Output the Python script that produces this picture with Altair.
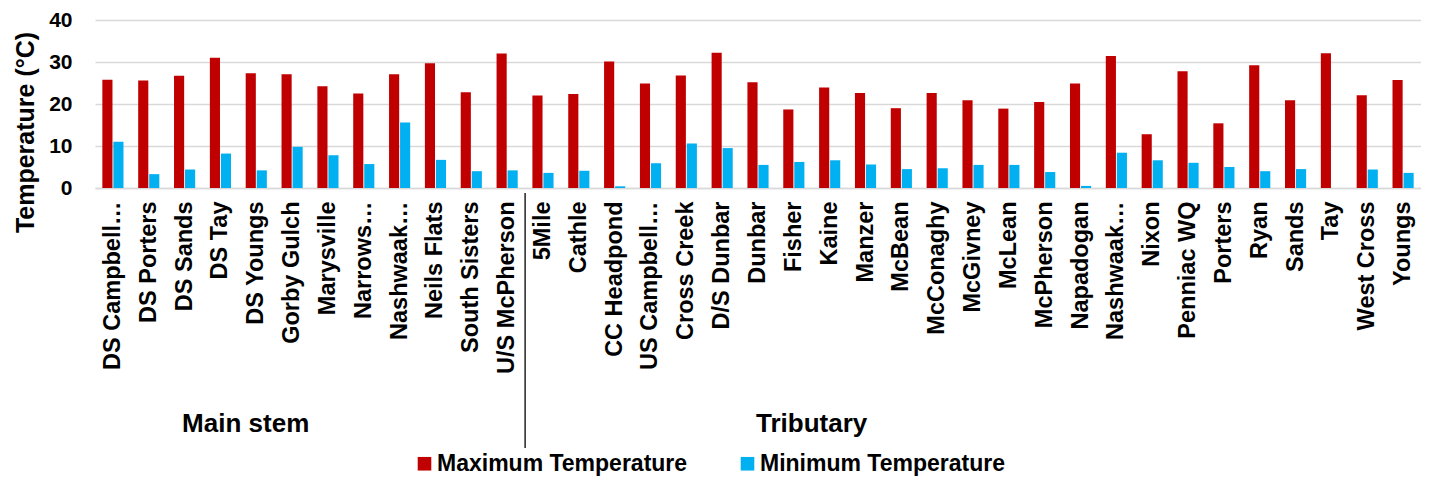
import altair as alt
import pandas as pd

FONT = "Liberation Sans"

main_names = ["DS Campbell…", "DS Porters", "DS Sands", "DS Tay", "DS Youngs", "Gorby Gulch",
              "Marysville", "Narrows…", "Nashwaak…", "Neils Flats", "South Sisters", "U/S McPherson"]
main_max = [25.8, 25.6, 26.7, 31.0, 27.3, 27.1, 24.2, 22.5, 27.1, 29.7, 22.8, 32.0]
main_min = [11.0, 3.3, 4.4, 8.2, 4.2, 9.8, 7.8, 5.7, 15.6, 6.7, 4.0, 4.2]

trib_names = ["5Mile", "Cathle", "CC Headpond", "US Campbell…", "Cross Creek", "D/S Dunbar",
              "Dunbar", "Fisher", "Kaine", "Manzer", "McBean", "McConaghy", "McGivney", "McLean",
              "McPherson", "Napadogan", "Nashwaak…", "Nixon", "Penniac WQ", "Porters", "Ryan",
              "Sands", "Tay", "West Cross", "Youngs"]
trib_max = [22.0, 22.4, 30.1, 24.9, 26.8, 32.2, 25.2, 18.7, 23.9, 22.6, 19.0, 22.6, 20.9, 18.9,
            20.5, 24.9, 31.4, 12.8, 27.8, 15.4, 29.2, 20.9, 32.1, 22.1, 25.7]
trib_min = [3.6, 4.1, 0.4, 5.9, 10.6, 9.5, 5.5, 6.2, 6.6, 5.6, 4.5, 4.7, 5.5, 5.5,
            3.8, 0.5, 8.4, 6.6, 6.0, 5.0, 4.0, 4.5, None, 4.4, 3.6]

series = ["Maximum Temperature", "Minimum Temperature"]
colors = ["#C00000", "#00B0F0"]

rows = []
keys = []
for grp, names, mx, mn in [("Main stem", main_names, main_max, main_min),
                           ("Tributary", trib_names, trib_max, trib_min)]:
    for n, a, b in zip(names, mx, mn):
        key = f"{grp}|{n}"
        keys.append(key)
        rows.append({"key": key, "series": series[0], "value": a})
        if b is not None:
            rows.append({"key": key, "series": series[1], "value": b})
df = pd.DataFrame(rows)

W, H = 1326, 168


def xenc(**kw):
    return alt.X(
        "key:N", sort=keys,
        scale=alt.Scale(domain=keys, paddingInner=0.41, paddingOuter=0.205),
        axis=alt.Axis(title=None, labelExpr="split(datum.label, '|')[1]", labelAngle=270,
                      labelAlign="right", labelBaseline="middle", labelFontSize=23.5,
                      labelFontWeight="bold", labelFont=FONT, labelColor="black",
                      labelPadding=13, ticks=False, domainColor="#d9d9d9", domainWidth=1.5,
                      labelLimit=400, grid=False, labelOverlap=False),
        **kw)


bars = alt.Chart(df).mark_bar().encode(
    x=xenc(),
    xOffset=alt.XOffset("series:N", sort=series, scale=alt.Scale(domain=series, paddingInner=0.08)),
    y=alt.Y("value:Q", scale=alt.Scale(domain=[0, 40]),
            axis=alt.Axis(values=[0, 10, 20, 30, 40], title="Temperature (°C)",
                          labelFontSize=21, labelFontWeight="bold", labelFont=FONT,
                          labelColor="black", labelPadding=23, ticks=False, domain=False,
                          gridColor="#d9d9d9", gridWidth=1.5, titleFontSize=25,
                          titleFontWeight="bold", titleFont=FONT, titleColor="black",
                          titlePadding=10, titleY=112)),
    color=alt.Color("series:N", scale=alt.Scale(domain=series, range=colors),
                    legend=alt.Legend(title=None, orient="none", legendX=318, legendY=432,
                                      direction="horizontal", symbolType="square",
                                      symbolSize=185, symbolStrokeWidth=0, symbolOpacity=1,
                                      labelFontSize=23, labelFontWeight="bold", labelFont=FONT,
                                      labelColor="black", labelOffset=1, columnPadding=48,
                                      labelLimit=400)),
)

divider = alt.Chart(pd.DataFrame({"key": ["Tributary|5Mile"]})).mark_rule(
    color="black", strokeWidth=1.3, xOffset=-7.3
).encode(x=xenc(bandPosition=0), y=alt.value(173), y2=alt.value(428))

lab_main = alt.Chart(pd.DataFrame({"key": ["Main stem|DS Youngs"], "text": ["Main stem"]})).mark_text(
    fontSize=26, fontWeight="bold", font=FONT, color="black", align="center", baseline="middle"
).encode(x=xenc(bandPosition=0), y=alt.value(404), text="text:N")

lab_trib = alt.Chart(pd.DataFrame({"key": ["Tributary|Kaine"], "text": ["Tributary"]})).mark_text(
    fontSize=26, fontWeight="bold", font=FONT, color="black", align="center", baseline="middle",
    dx=-7.5
).encode(x=xenc(bandPosition=0), y=alt.value(404), text="text:N")

chart = alt.layer(bars, divider, lab_main, lab_trib).properties(
    width=W, height=H,
    autosize=alt.AutoSizeParams(type="none"),
    padding={"left": 87, "top": 12, "right": 0, "bottom": 290},
).configure_view(stroke=None)

chart.save("out.html", embed_options={"renderer": "svg", "actions": False})
